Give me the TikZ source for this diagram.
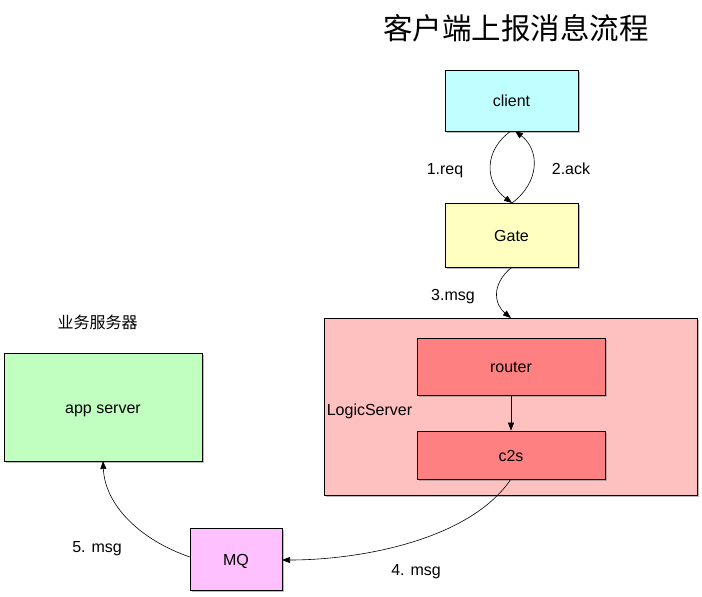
\documentclass[tikz,border=0pt]{standalone}
\usepackage{fontspec}
\setmainfont{Liberation Sans}
\newfontfamily\cjk{Noto Sans CJK SC}
\usetikzlibrary{shadows,arrows.meta}
\definecolor{cyanbox}{HTML}{C0FFFF}
\definecolor{yellowbox}{HTML}{FFFFC0}
\definecolor{pinkbox}{HTML}{FFC0C0}
\definecolor{redbox}{HTML}{FF8080}
\definecolor{greenbox}{HTML}{C0FFC0}
\definecolor{magbox}{HTML}{FFC0FF}
\tikzset{
  box/.style={draw=black, line width=0.8pt, drop shadow={shadow xshift=1.5pt, shadow yshift=-1.5pt, fill=black!45, opacity=0.6}, font=\fontsize{16}{18}\selectfont, text height=12pt, text depth=0pt},
  lbl/.style={font=\fontsize{16}{18}\selectfont, inner sep=0pt, text height=12pt, text depth=0pt},
  conn/.style={draw=black, line width=0.6pt, -{Triangle[length=8pt,width=6pt]}}
}
\begin{document}
\begin{tikzpicture}[x=1pt,y=-1pt]
\useasboundingbox (0,0) rectangle (702,597);
% boxes
\node[box, fill=cyanbox, minimum width=133pt, minimum height=61pt] (client) at (511.5,100.5) {client};
\node[box, fill=yellowbox, minimum width=133pt, minimum height=64pt] (gate) at (511.5,235) {Gate};
\node[box, fill=pinkbox, minimum width=373pt, minimum height=177pt] (logic) at (510.5,406.5) {};
\node[box, fill=redbox, minimum width=188pt, minimum height=57pt] (router) at (511,366.5) {router};
\node[box, fill=redbox, minimum width=188pt, minimum height=48pt] (c2s) at (511,455) {c2s};
\node[box, fill=greenbox, minimum width=198pt, minimum height=108pt] (app) at (103,407) {app server};
\node[box, fill=magbox, minimum width=92pt, minimum height=62pt] (mq) at (236,559) {MQ};
% labels
\node[font=\cjk\fontsize{29.5}{32}\selectfont, inner sep=0pt] (title) at (516,28) {客户端上报消息流程};
\node[lbl] (l1) at (445,168) {1.req};
\node[lbl] (l2) at (571,168) {2.ack};
\node[lbl] (l3) at (453,294) {3.msg};
\node[font=\cjk\fontsize{16}{18}\selectfont, inner sep=0pt] (biz) at (97.5,322) {业务服务器};
\node[lbl] (ls) at (369.5,409) {LogicServer};
\node[lbl] (l5) at (97,546) {5. msg};
\node[lbl] (l4) at (416,569) {4. msg};
% connectors
\coordinate (cb1) at (511,131);
\coordinate (gt1) at (512,203);
\coordinate (cb2) at (515,131);
\draw[conn] (cb1) .. controls (484,150) and (484,182) .. (gt1);
\draw[conn] (gt1) .. controls (540,182) and (540,150) .. (cb2);
\coordinate (gb) at (512,267);
\coordinate (lt) at (511,318);
\draw[conn] (gb) .. controls (490,285) and (495,305) .. (lt);
\draw[conn] (router.south) -- (c2s.south |- c2s.north);
\coordinate (cs) at (511,479);
\coordinate (mr) at (282,560);
\draw[conn] (cs) .. controls (470,540) and (360,560) .. (mr);
\coordinate (ml) at (190,557);
\coordinate (ab) at (103,461);
\draw[conn] (ml) .. controls (140,540) and (105,505) .. (ab);
\end{tikzpicture}
\end{document}
